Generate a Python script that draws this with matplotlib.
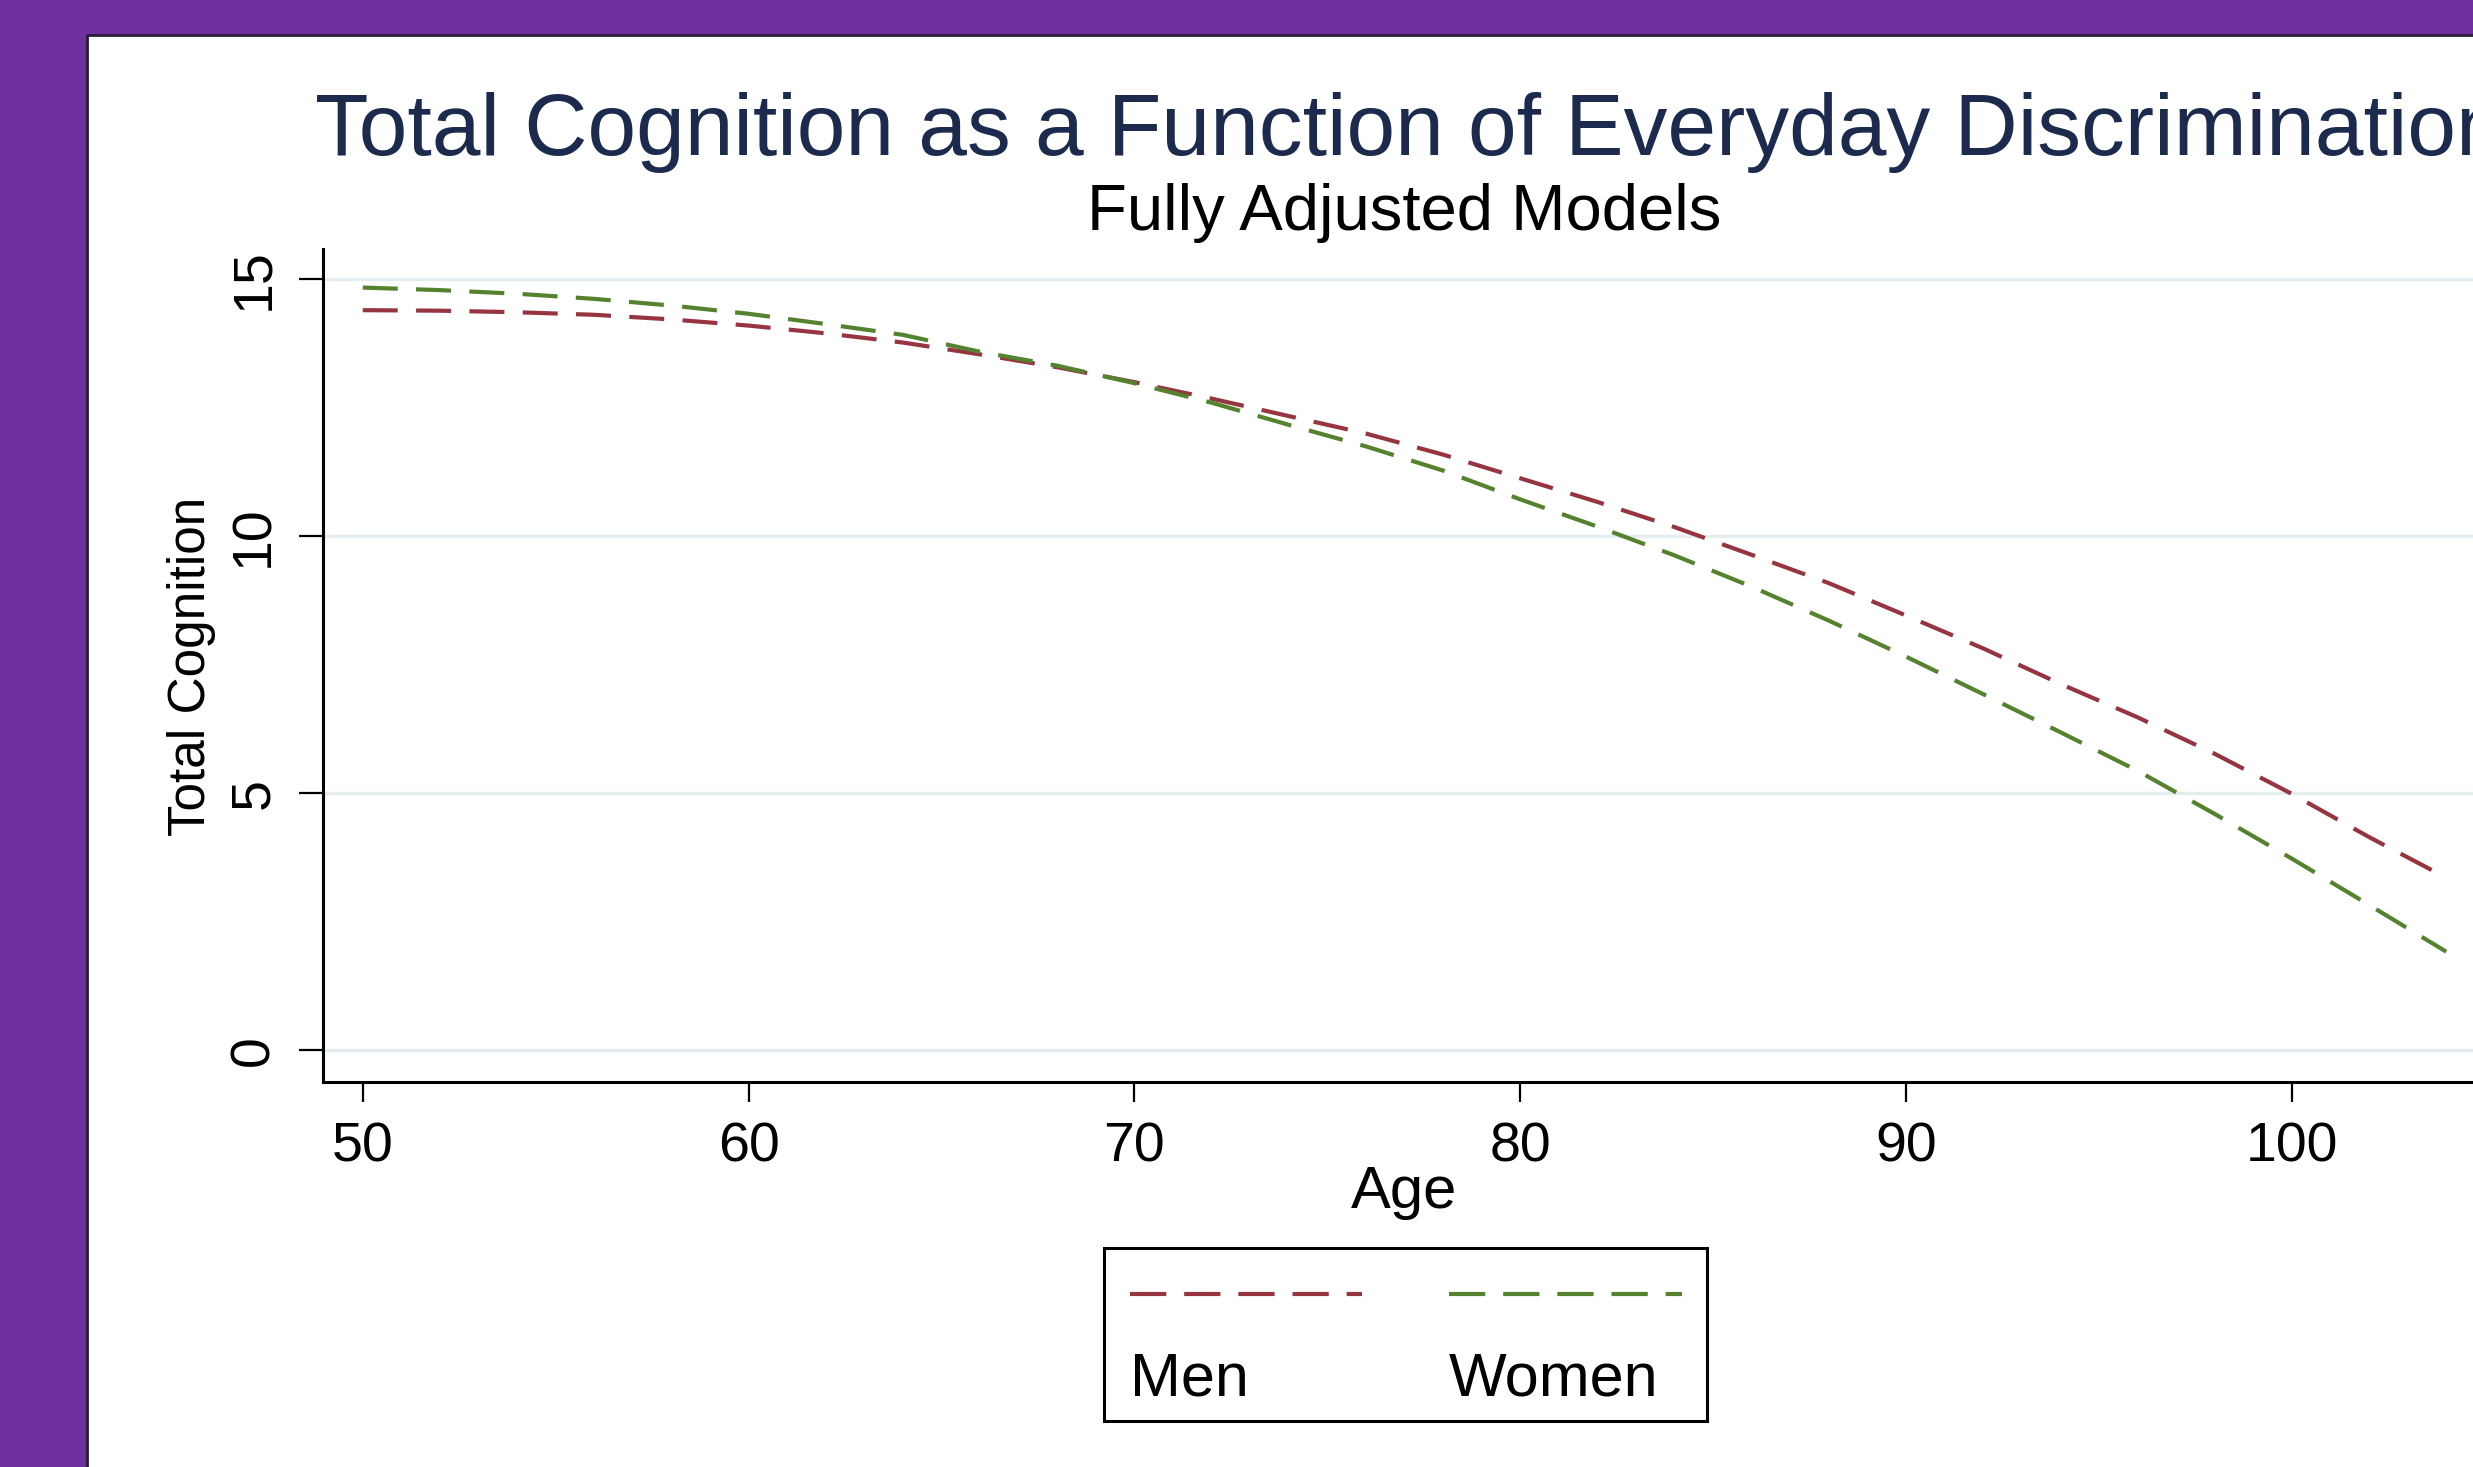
import numpy as np
import matplotlib.pyplot as plt
from matplotlib.patches import Rectangle
from matplotlib.lines import Line2D

plt.rcParams['font.family'] = ['Liberation Sans', 'DejaVu Sans']

# predicted total cognition, every 2 years of age
ages = [50, 52, 54, 56, 58, 60, 62, 64, 66, 68, 70, 72, 74, 76,
        78, 80, 82, 84, 86, 88, 90, 92, 94, 96, 98, 100, 102, 104]
men = [14.40, 14.39, 14.36, 14.31, 14.22, 14.10, 13.95, 13.77, 13.54, 13.29,
       13.00, 12.68, 12.34, 12.00, 11.59, 11.13, 10.67, 10.18, 9.64, 9.09,
       8.46, 7.82, 7.13, 6.48, 5.77, 4.99, 4.15, 3.36]
women = [14.84, 14.79, 14.72, 14.62, 14.49, 14.33, 14.13, 13.92, 13.59, 13.32,
         12.98, 12.60, 12.17, 11.75, 11.28, 10.72, 10.19, 9.63, 9.02, 8.36,
         7.66, 6.93, 6.19, 5.44, 4.60, 3.73, 2.83, 1.92]
x_ticks = [50, 60, 70, 80, 90, 100]
y_ticks = [0, 5, 10, 15]
series_names = ['Men', 'Women']
series_colors = ['#963540', '#55822f']

W, H = 2473, 1467  # output size in pixels


def fx(px):  # pixel -> figure fraction
    return px / W


def fy(py):
    return 1 - py / H


fig = plt.figure(figsize=(W / 100, H / 100), dpi=100)
fig.patch.set_facecolor('#7030a0')

# white slide panel (runs off the right and bottom edge)
panel = Rectangle((fx(87), -0.01), 1.0, fy(35) + 0.01, transform=fig.transFigure,
                  facecolor='white', edgecolor='#2a1d36', lw=2, zorder=-1)
fig.add_artist(panel)

# axes run slightly past the right edge, like the screenshot
ax = fig.add_axes([fx(323), fy(1082), fx(2484) - fx(323), fy(249) - fy(1082)])
ax.set_facecolor('none')

for vals, col in zip([men, women], series_colors):
    ax.plot(ages, vals, color=col, lw=3, dashes=[8.4, 4.4])

ax.set_xlim(48.97, 104.98)
ax.set_ylim(-0.615, 15.59)
ax.set_xticks(x_ticks)
ax.set_yticks(y_ticks)
ax.set_yticklabels([str(t) for t in y_ticks], rotation=90, va='center')
ax.grid(axis='y', color='#e4eef0', lw=2.4)
ax.set_axisbelow(True)
for s in ['top', 'right']:
    ax.spines[s].set_visible(False)
for s in ['left', 'bottom']:
    ax.spines[s].set_linewidth(2.2)
ax.tick_params(axis='x', length=14.5, width=1.6, pad=14, labelsize=40)
ax.tick_params(axis='y', length=17, width=1.6, pad=14, labelsize=40)

# titles and axis labels
fig.text(fx(315), fy(155), 'Total Cognition as a Function of Everyday Discrimination',
         fontsize=63, color='#1c2a4e', ha='left', va='baseline')
fig.text(fx(1404), fy(230), 'Fully Adjusted Models', fontsize=47,
         color='black', ha='center', va='baseline')
fig.text(fx(1404), fy(1208), 'Age', fontsize=43, ha='center', va='baseline')
fig.text(fx(192), fy(666), 'Total Cognition', fontsize=37, rotation=90,
         ha='center', va='center')

# legend box, Stata style: key above label
box = Rectangle((fx(1104), fy(1421)), fx(1707) - fx(1104), fy(1248) - fy(1421),
                transform=fig.transFigure, facecolor='white', edgecolor='black', lw=2.2)
fig.add_artist(box)
key_x = [(1130, 1362), (1449, 1682)]
for name, col, (x0, x1) in zip(series_names, series_colors, key_x):
    fig.add_artist(Line2D([fx(x0), fx(x1)], [fy(1294), fy(1294)], transform=fig.transFigure,
                          color=col, lw=3, dashes=[8.7, 4.3]))
    fig.text(fx(x0), fy(1395), name, fontsize=44, ha='left', va='baseline')

fig.savefig('out.png', dpi=100, facecolor=fig.get_facecolor())
